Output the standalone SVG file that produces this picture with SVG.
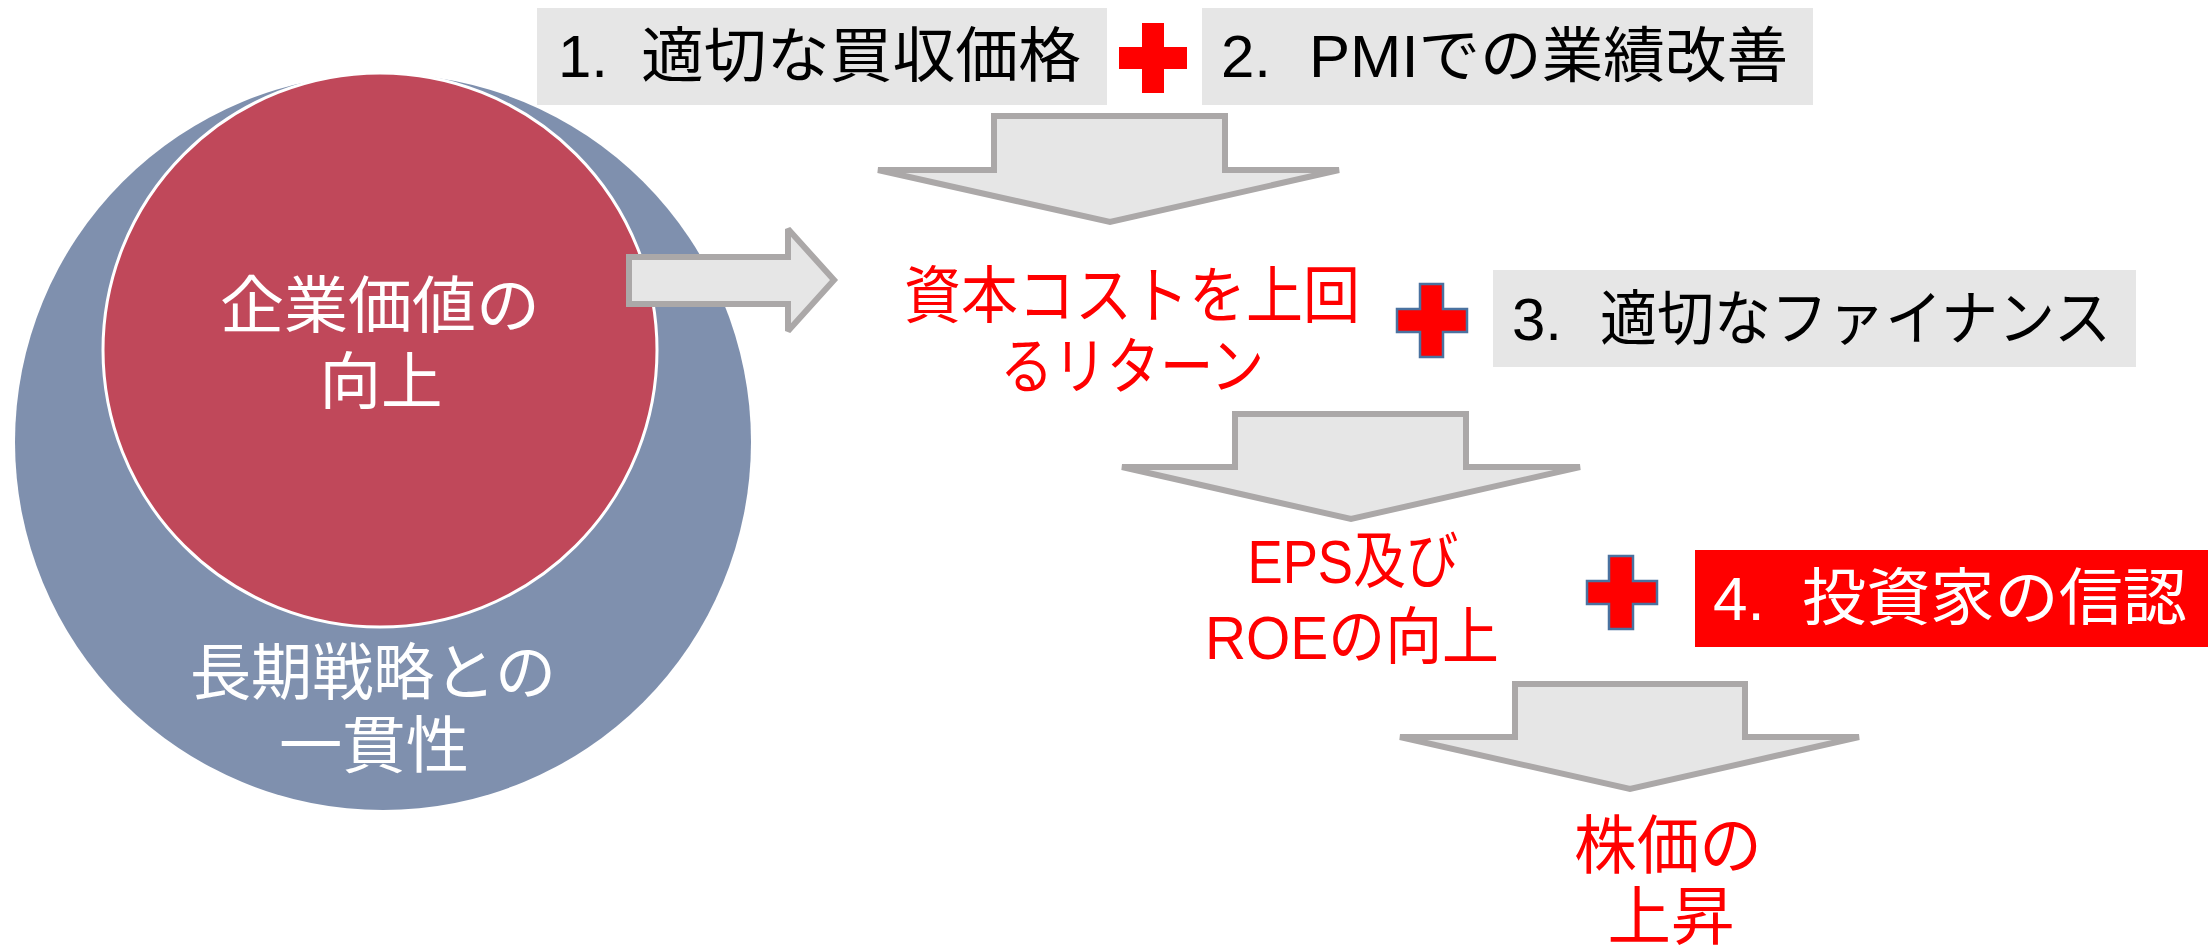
<svg xmlns="http://www.w3.org/2000/svg" width="2208" height="945" viewBox="0 0 2208 945">
<style>
  text { font-family: "Liberation Sans", "Noto Sans CJK JP", sans-serif; }
  .bt { font-size: 60px; fill: #000000; }
  .wt { font-size: 62px; fill: #ffffff; text-anchor: middle; }
  .rt { font-size: 62px; fill: #ff0000; text-anchor: middle; }
  .box { fill: #e6e6e6; }
  .arr { fill: #e6e6e6; stroke: #aba8a8; stroke-width: 6; stroke-miterlimit: 2; }
  .plus { fill: #ff0000; }
  .plusb { fill: #ff0000; stroke: #4a72a0; stroke-width: 2.5; }
</style>
<rect width="2208" height="945" fill="#ffffff"/>

<g id="circle-outer">
  <circle cx="383" cy="442" r="368" fill="#7f90ae"/>
  <text class="wt" x="373" y="695" textLength="366" lengthAdjust="spacingAndGlyphs">長期戦略との</text>
  <text class="wt" x="374" y="768" textLength="190" lengthAdjust="spacingAndGlyphs">一貫性</text>
</g>
<g id="circle-inner">
  <circle cx="380" cy="350" r="277" fill="#c0485a" stroke="#ffffff" stroke-width="3"/>
  <text class="wt" x="380" y="328" textLength="320" lengthAdjust="spacingAndGlyphs">企業価値の</text>
  <text class="wt" x="381" y="404" textLength="123" lengthAdjust="spacingAndGlyphs">向上</text>
</g>

<g id="connectors">
  <polygon class="arr" points="629,257 788,257 788,229 834,280 788,331 788,304 629,304"/>
  <polygon class="arr" points="994,116 1225,116 1225,170 1339,170 1110,222 878,170 994,170"/>
  <polygon class="arr" points="1235,414 1466,414 1466,467 1580,467 1351,519 1122,467 1235,467"/>
  <polygon class="arr" points="1515,684 1745,684 1745,737 1859,737 1630,789 1400,737 1515,737"/>
</g>

<g id="box1">
  <rect class="box" x="537" y="8" width="570" height="97"/>
  <text class="bt" y="77"><tspan x="558">1. </tspan><tspan x="641" textLength="440" lengthAdjust="spacingAndGlyphs">適切な買収価格</tspan></text>
</g>
<g id="plus1">
  <polygon class="plus" points="1142,23 1164,23 1164,47 1187,47 1187,69 1164,69 1164,93 1142,93 1142,69 1119,69 1119,47 1142,47"/>
</g>
<g id="box2">
  <rect class="box" x="1202" y="8" width="611" height="97"/>
  <text class="bt" y="77"><tspan x="1221">2. </tspan><tspan x="1309" textLength="479" lengthAdjust="spacingAndGlyphs">PMIでの業績改善</tspan></text>
</g>

<g id="node-return">
  <text class="rt" x="1132" y="318" textLength="456" lengthAdjust="spacingAndGlyphs">資本コストを上回</text>
  <text class="rt" x="1132" y="389" textLength="264" lengthAdjust="spacingAndGlyphs">るリターン</text>
</g>
<g id="plus2">
  <polygon class="plusb" points="1420,284 1443,284 1443,309 1467,309 1467,332 1443,332 1443,357 1420,357 1420,332 1397,332 1397,309 1420,309"/>
</g>
<g id="box3">
  <rect class="box" x="1493" y="270" width="643" height="97"/>
  <text class="bt" y="340"><tspan x="1512">3. </tspan><tspan x="1600" textLength="511" lengthAdjust="spacingAndGlyphs">適切なファイナンス</tspan></text>
</g>

<g id="node-eps">
  <text class="rt" x="1353" y="583" textLength="211" lengthAdjust="spacingAndGlyphs">EPS及び</text>
  <text class="rt" x="1352" y="659" textLength="294" lengthAdjust="spacingAndGlyphs">ROEの向上</text>
</g>
<g id="plus3">
  <polygon class="plusb" points="1609,556 1633,556 1633,581 1657,581 1657,604 1633,604 1633,629 1609,629 1609,604 1587,604 1587,581 1609,581"/>
</g>
<g id="box4">
  <rect x="1695" y="550" width="513" height="97" fill="#ff0000"/>
  <text class="bt" y="620" style="fill:#ffffff;font-size:62px"><tspan x="1713">4. </tspan><tspan x="1802" textLength="385" lengthAdjust="spacingAndGlyphs">投資家の信認</tspan></text>
</g>

<g id="node-price">
  <text class="rt" x="1668" y="868" style="font-size:64px" textLength="188" lengthAdjust="spacingAndGlyphs">株価の</text>
  <text class="rt" x="1671" y="939" style="font-size:64px" textLength="127" lengthAdjust="spacingAndGlyphs">上昇</text>
</g>
</svg>
